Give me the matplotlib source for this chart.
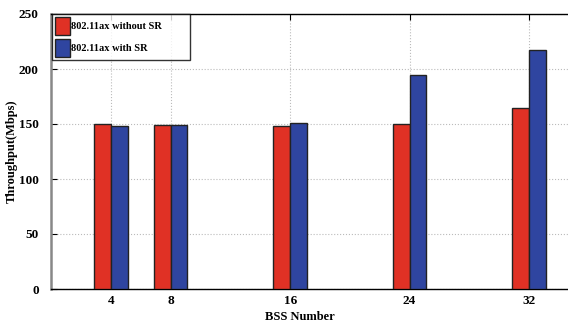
import numpy as np
import matplotlib.pyplot as plt

plt.rcParams['font.family'] = ['Liberation Serif', 'DejaVu Serif']
plt.rcParams['font.weight'] = 'bold'

bss = [4, 8, 16, 24, 32]
without_sr = [150, 149, 148, 150, 164.5]
with_sr = [148.5, 149, 151, 194.5, 217.5]

fig = plt.figure(figsize=(5.68, 3.25), dpi=100)
ax_w = 36 * 14.93
ax = fig.add_axes([51.3/568, 1-289/325, ax_w/568, 275/325])

w = 1.12
x = np.array(bss)
ax.bar(x - w/2, without_sr, w, color='#e03125', edgecolor='#222222', linewidth=1.0,
       label='802.11ax without SR', zorder=3)
ax.bar(x + w/2, with_sr, w, color='#2f45a0', edgecolor='#222222', linewidth=1.0,
       label='802.11ax with SR', zorder=3)

ax.set_xlim(0, 36)
ax.set_ylim(0, 250)
ax.set_xticks(bss)
ax.set_yticks([0, 50, 100, 150, 200, 250])
ax.grid(True, linestyle=':', color='#bbbbbb', linewidth=0.8, zorder=0)
ax.tick_params(direction='in', top=True, labelsize=9.5, length=4)
ax.tick_params(axis='y', pad=9)
ax.tick_params(axis='x', pad=4)
ax.spines['left'].set_color('#888888')
ax.spines['left'].set_linewidth(1.8)
for s in ['top', 'bottom']:
    ax.spines[s].set_linewidth(1.0)

ax.set_xlabel('BSS Number', fontsize=9, fontweight='bold')
ax.set_ylabel('Throughput(Mbps)', fontsize=9, fontweight='bold')
ax.xaxis.set_label_coords((300 - 51.3) / ax_w, -22 / 275)
ax.yaxis.set_label_coords((18 - 51.3) / ax_w, 0.5)

leg = ax.legend(loc='upper left', fontsize=7.5, frameon=True, fancybox=False,
                bbox_to_anchor=(0.002, 1 - 48/275, 138/ax_w, 48/275), mode='expand',
                borderaxespad=0, handlelength=1.4, handleheight=2.2,
                handletextpad=0.1, borderpad=0.3, labelspacing=0.45)
leg.get_frame().set_edgecolor('black')
leg.get_frame().set_linewidth(1.0)
for t in leg.get_texts():
    t.set_fontweight('bold')

fig.savefig('out.png', dpi=100)
